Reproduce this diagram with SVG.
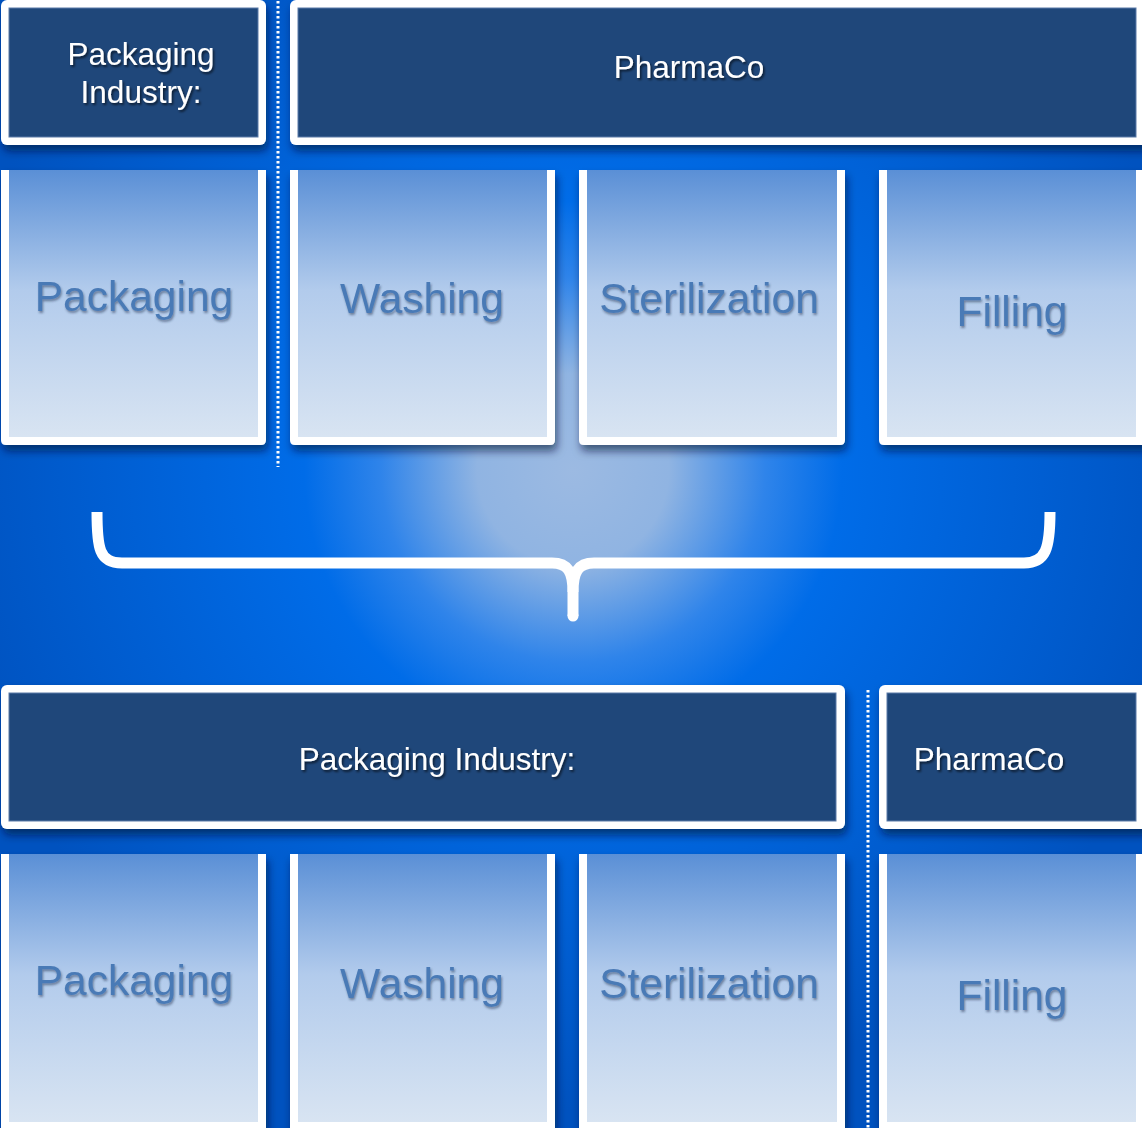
<svg xmlns="http://www.w3.org/2000/svg" width="1142" height="1128" viewBox="0 0 1142 1128">
  <defs>
    <radialGradient id="bg" cx="573" cy="470" r="640" gradientUnits="userSpaceOnUse">
      <stop offset="0" stop-color="#9cbae2"/>
      <stop offset="0.15" stop-color="#90b4e2"/>
      <stop offset="0.3" stop-color="#2f84ea"/>
      <stop offset="0.42" stop-color="#006ce8"/>
      <stop offset="1" stop-color="#0052bf"/>
    </radialGradient>
    <linearGradient id="proc" x1="0" y1="0" x2="0" y2="1">
      <stop offset="0" stop-color="#5a8fd6"/>
      <stop offset="0.45" stop-color="#b2cbec"/>
      <stop offset="1" stop-color="#d8e4f2"/>
    </linearGradient>
    <filter id="sh" x="-5%" y="-10%" width="110%" height="130%">
      <feDropShadow dx="2" dy="6" stdDeviation="4" flood-color="#001030" flood-opacity="0.6"/>
    </filter>
    <filter id="tsw" x="-10%" y="-30%" width="120%" height="170%">
      <feDropShadow dx="1.5" dy="2" stdDeviation="1" flood-color="#000000" flood-opacity="0.6"/>
    </filter>
    <filter id="tsb" x="-10%" y="-30%" width="120%" height="170%">
      <feDropShadow dx="1" dy="2" stdDeviation="1" flood-color="#1a3050" flood-opacity="0.5"/>
    </filter>
  </defs>
  <style>
    .hdrO { fill: #ffffff; }
    .hdrI { fill: #1f477a; stroke: #5a7aa8; stroke-width: 1; }
    .procO { fill: #ffffff; }
    .procI { fill: url(#proc); }
    .ht { font-family: "Liberation Sans", Arial, sans-serif; font-size: 31.5px; fill: #ffffff; text-anchor: middle; filter: url(#tsw); }
    .pt { font-family: "Liberation Sans", Arial, sans-serif; font-size: 42.5px; fill: #4a7ab6; text-anchor: middle; filter: url(#tsb); }
    .dots { stroke: #ffffff; stroke-width: 3; stroke-dasharray: 2.5 2.5; fill: none; }
    .brace { stroke: #ffffff; stroke-width: 11; fill: none; }
  </style>

  <rect x="0" y="0" width="1142" height="1128" fill="url(#bg)"/>

  <!-- top headers -->
  <g id="hdr-top-packaging">
    <rect class="hdrO" x="1" y="0" width="265" height="145" rx="6" filter="url(#sh)"/>
    <rect class="hdrI" x="9" y="8" width="249" height="129"/>
    <text class="ht" x="141" y="65">Packaging</text>
    <text class="ht" x="141" y="103">Industry:</text>
  </g>
  <g id="hdr-top-pharmaco">
    <rect class="hdrO" x="290" y="0" width="860" height="145" rx="6" filter="url(#sh)"/>
    <rect class="hdrI" x="298" y="8" width="838" height="129"/>
    <text class="ht" x="689" y="78">PharmaCo</text>
  </g>

  <!-- top process boxes -->
  <g id="top-packaging">
    <path class="procO" filter="url(#sh)" d="M1,170 H266 V440 Q266,445 261,445 H6 Q1,445 1,440 Z"/>
    <rect class="procI" x="9" y="170" width="249" height="267"/>
    <text class="pt" x="134" y="311">Packaging</text>
  </g>
  <g id="top-washing">
    <path class="procO" filter="url(#sh)" d="M290,170 H555 V440 Q555,445 550,445 H295 Q290,445 290,440 Z"/>
    <rect class="procI" x="298" y="170" width="249" height="267"/>
    <text class="pt" x="422" y="313">Washing</text>
  </g>
  <g id="top-sterilization">
    <path class="procO" filter="url(#sh)" d="M579,170 H845 V440 Q845,445 840,445 H584 Q579,445 579,440 Z"/>
    <rect class="procI" x="587" y="170" width="250" height="267"/>
    <text class="pt" x="709" y="313">Sterilization</text>
  </g>
  <g id="top-filling">
    <path class="procO" filter="url(#sh)" d="M879,170 H1150 V445 H884 Q879,445 879,440 Z"/>
    <rect class="procI" x="887" y="170" width="249" height="267"/>
    <text class="pt" x="1012" y="326">Filling</text>
  </g>

  <!-- bottom headers -->
  <g id="hdr-bot-packaging">
    <rect class="hdrO" x="1" y="685" width="844" height="144" rx="6" filter="url(#sh)"/>
    <rect class="hdrI" x="9" y="693" width="827" height="128"/>
    <text class="ht" x="437" y="770">Packaging Industry:</text>
  </g>
  <g id="hdr-bot-pharmaco">
    <rect class="hdrO" x="879" y="685" width="270" height="144" rx="6" filter="url(#sh)"/>
    <rect class="hdrI" x="887" y="693" width="249" height="128"/>
    <text class="ht" x="989" y="770">PharmaCo</text>
  </g>

  <!-- bottom process boxes -->
  <g id="bot-packaging">
    <path class="procO" filter="url(#sh)" d="M1,854 H266 V1128 H1 Z"/>
    <rect class="procI" x="9" y="854" width="249" height="268"/>
    <text class="pt" x="134" y="995">Packaging</text>
  </g>
  <g id="bot-washing">
    <path class="procO" filter="url(#sh)" d="M290,854 H555 V1128 H290 Z"/>
    <rect class="procI" x="298" y="854" width="249" height="268"/>
    <text class="pt" x="422" y="998">Washing</text>
  </g>
  <g id="bot-sterilization">
    <path class="procO" filter="url(#sh)" d="M579,854 H845 V1128 H579 Z"/>
    <rect class="procI" x="587" y="854" width="250" height="268"/>
    <text class="pt" x="709" y="998">Sterilization</text>
  </g>
  <g id="bot-filling">
    <path class="procO" filter="url(#sh)" d="M879,854 H1150 V1128 H879 Z"/>
    <rect class="procI" x="887" y="854" width="249" height="268"/>
    <text class="pt" x="1012" y="1010">Filling</text>
  </g>

  <!-- connectors: dividers and brace -->
  <g id="connectors">
    <line class="dots" x1="278" y1="1" x2="278" y2="467"/>
    <line class="dots" x1="868" y1="690" x2="868" y2="1128"/>
    <path class="brace" d="M97,512 C97,548 99,563 122,563 L552,563 C568,563 573,572 573,592 L573,616"/>
    <path class="brace" d="M1050,512 C1050,548 1046,563 1024,563 L594,563 C578,563 573,572 573,592"/>
    <circle cx="573" cy="616" r="5.5" fill="#ffffff"/>
  </g>
</svg>
